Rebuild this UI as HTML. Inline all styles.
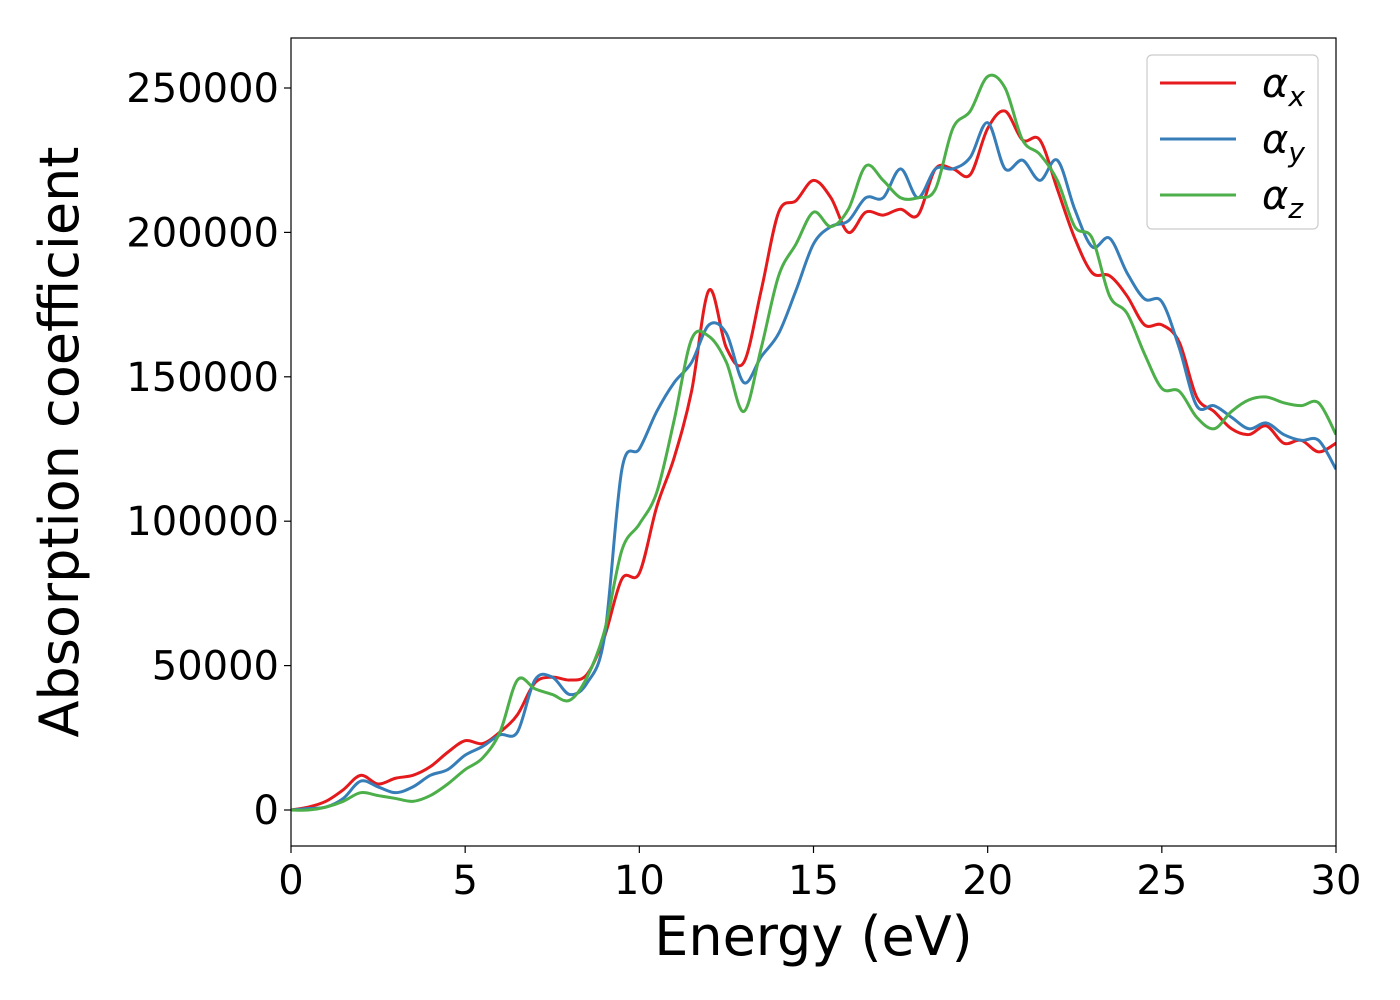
<!DOCTYPE html>
<html><head><meta charset="utf-8"><style>
html,body{margin:0;padding:0;background:#fff;}
svg{display:block;font-family:"DejaVu Sans","Liberation Sans",sans-serif;}
</style></head><body>
<svg id="chart" width="1400" height="1000">
<g id="plot"></g>
</svg>
<script>
const energy = [];
for (let i = 0; i <= 60; i++) energy.push(i * 0.5);
const alphaX = [0,1,3,7,12,9,11,12,15,20,24,23,27,33,44,46,45,47,60,80,82,105,122,145,180,160,155,180,207,211,218,212,200,207,206,208,206,222,222,220,236,242,232,232,215,198,186,185,178,168,168,162,143,138,132,130,133,127,128,124,127];
const alphaY = [0,0.5,1,4,10,8,6,8,12,14,19,22,26,27,45,46,40,44,60,118,125,138,148,155,168,165,148,157,165,180,196,202,204,212,212,222,212,222,222,226,238,222,225,218,225,208,195,198,186,177,176,160,140,140,136,132,134,130,128,128,118];
const alphaZ = [0,0,1,3,6,5,4,3,5,9,14,18,27,45,42,40,38,46,62,90,99,110,135,163,164,155,138,160,185,196,207,202,208,223,218,212,212,215,236,242,254,250,232,227,218,202,198,178,172,158,146,145,136,132,138,142,143,141,140,141,130];
const xTicks = [0,5,10,15,20,25,30];
const yTicks = [0,50000,100000,150000,200000,250000];
const seriesNames = ["x","y","z"];
const colors = ["#e41a1c","#377eb8","#4daf4a"];

const L=291,R=1336,T=38,B=846;
const sx = v => L + (v/30)*(R-L);
const sy = v => 810 - v*722/250000;
const NS="http://www.w3.org/2000/svg";
const svg=document.getElementById('chart');
const g=document.getElementById('plot');
function mk(tag,attrs,parent){const e=document.createElementNS(NS,tag);for(const k in attrs)e.setAttribute(k,attrs[k]);(parent||svg).appendChild(e);return e;}

const clip=mk('clipPath',{id:'clp'});mk('rect',{x:L,y:T,width:R-L,height:B-T},clip);
[alphaX,alphaY,alphaZ].forEach((arr,si)=>{
  const pts=arr.map((v,i)=>[sx(energy[i]),sy(v*1000)]);
  let d=`M${pts[0][0]},${pts[0][1]}`;
  for(let i=0;i<pts.length-1;i++){
    const p0=pts[Math.max(0,i-1)],p1=pts[i],p2=pts[i+1],p3=pts[Math.min(pts.length-1,i+2)];
    const c1=[p1[0]+(p2[0]-p0[0])/6,p1[1]+(p2[1]-p0[1])/6];
    const c2=[p2[0]-(p3[0]-p1[0])/6,p2[1]-(p3[1]-p1[1])/6];
    d+=` C${c1[0]},${c1[1]} ${c2[0]},${c2[1]} ${p2[0]},${p2[1]}`;
  }
  const p=mk('path',{d:d,fill:'none',stroke:colors[si],'stroke-width':3,'clip-path':'url(#clp)'},g);
  
  
});
const frame=mk('rect',{x:L,y:T,width:R-L,height:B-T,fill:'none',stroke:'#000','stroke-width':1.2});


xTicks.forEach(t=>{
  const x=sx(t);
  const tk=mk('line',{x1:x,x2:x,y1:B,y2:B+7,stroke:'#000','stroke-width':1.2});
  
  
  const tx=mk('text',{x:x,y:B+48,'text-anchor':'middle','font-size':40});
  tx.textContent=t;
  
  
});
yTicks.forEach(t=>{
  const y=sy(t);
  const tk=mk('line',{x1:L-7,x2:L,y1:y,y2:y,stroke:'#000','stroke-width':1.2});
  
  
  const tx=mk('text',{x:L-12,y:y+14,'text-anchor':'end','font-size':40});
  tx.textContent=t;
  
  
});
const xt=mk('text',{x:(L+R)/2,y:955,'text-anchor':'middle','font-size':54});
xt.textContent='Energy (eV)';


const yt=mk('text',{x:0,y:0,'text-anchor':'middle','font-size':54,transform:`translate(78,${(T+B)/2}) rotate(-90)`});
yt.textContent='Absorption coefficient';


const lg=mk('g',{});


mk('rect',{x:1147,y:55,width:171,height:174,rx:5,fill:'#fff',stroke:'#ccc','stroke-width':1.2},lg);
seriesNames.forEach((n,i)=>{
  const y=83+i*56;
  const ln=mk('line',{x1:1160,x2:1236,y1:y,y2:y,stroke:colors[i],'stroke-width':3},lg);
  
  
  const tx=mk('text',{x:1262,y:y+14,'font-size':40,'font-style':'italic'},lg);
  tx.innerHTML='α<tspan font-size="28" dy="9">'+n+'</tspan>';
  
  
});
</script>
</body></html>
